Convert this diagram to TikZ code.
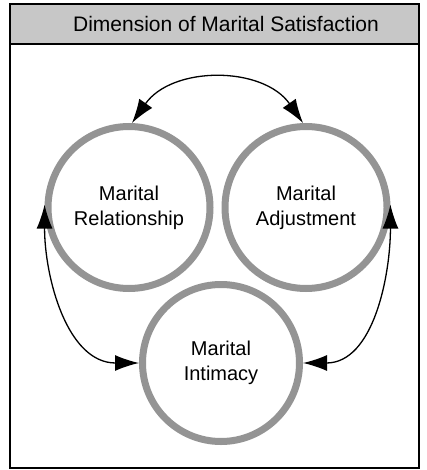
\documentclass[tikz,border=0pt]{standalone}
\usepackage{fontspec}
\setmainfont{Liberation Sans}
\usetikzlibrary{arrows.meta}

\begin{document}
\begin{tikzpicture}[x=1pt,y=-1pt,
  dimension/.style={circle,draw=black!42,line width=7pt,fill=white,minimum size=162pt,align=center,font=\fontsize{20}{25}\selectfont},
  link/.style={{Latex[length=24pt,width=16pt]}-{Latex[length=24pt,width=16pt]},line width=1.3pt}]
  \useasboundingbox (0,0) rectangle (427,470);

  % Frame
  \draw[line width=2pt,fill=black!22] (10,4) rectangle (419,44);
  \draw[line width=2pt] (10,4) rectangle (419,468);
  \node[font=\fontsize{21}{25}\selectfont] (title) at (226,24) {Dimension of Marital Satisfaction};

  % Dimensions
  \node[dimension] (relationship) at (129,207.5) {Marital\\Relationship};
  \node[dimension] (adjustment) at (306,207.5) {Marital\\Adjustment};
  \node[dimension,minimum size=157pt] (intimacy) at (221,363) {Marital\\Intimacy};

  \draw[link] (relationship.88) to[out=55,in=125,looseness=1.05] (adjustment.92);
  \draw[link] (relationship.178) to[out=-90,in=180] (intimacy.180);
  \draw[link] (adjustment.2) to[out=-90,in=0] (intimacy.0);

\end{tikzpicture}
\end{document}
